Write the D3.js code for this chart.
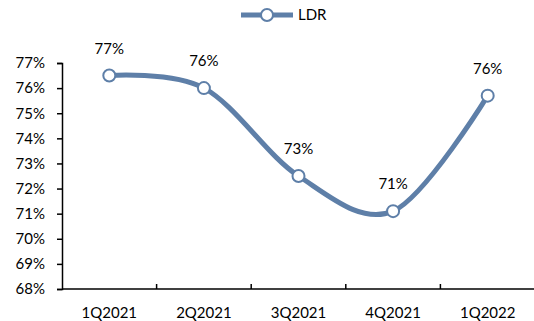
<!DOCTYPE html>
<html>
<head>
<meta charset="utf-8">
<script src="https://cdn.jsdelivr.net/npm/d3@7"></script>
<style>
  body { margin: 0; background: #fff; }
  text { font-family: Lato, "Open Sans", sans-serif; fill: #000; }
</style>
</head>
<body>
<script>
const WIDTH = 534
const HEIGHT = 321

// data
const quarters = ["1Q2021", "2Q2021", "3Q2021", "4Q2021", "1Q2022"]
const ldr = [76.5, 76.0, 72.5, 71.1, 75.7]
const yTicks = [68, 69, 70, 71, 72, 73, 74, 75, 76, 77]

const lineColor = "#5e7fa8"
const margin = { top: 63, right: 0, bottom: 32, left: 62 }

const svg = d3.select("body")
    .append("svg")
    .attr("width", WIDTH)
    .attr("height", HEIGHT)

const x = d3.scaleBand()
    .domain(quarters)
    .range([margin.left, WIDTH - margin.right + 1])

const y = d3.scaleLinear()
    .domain([68, 77])
    .range([HEIGHT - margin.bottom, margin.top])

// y axis
const yAxis = svg.append("g")
    .attr("transform", `translate(${margin.left},0)`)
    .call(d3.axisLeft(y).tickValues(yTicks).tickSize(5).tickPadding(12).tickFormat(d => d + "%"))
yAxis.select(".domain").attr("stroke", "#000").attr("stroke-width", 1.5)
yAxis.selectAll(".tick line").attr("stroke", "#000").attr("stroke-width", 1.5)
yAxis.selectAll("text").style("font-size", "15px")

// x axis
const xAxis = svg.append("g")
    .attr("transform", `translate(0,${y(68)})`)
xAxis.append("line")
    .attr("x1", margin.left)
    .attr("x2", WIDTH)
    .attr("stroke", "#000")
    .attr("stroke-width", 1.5)
xAxis.selectAll(".sep")
    .data(quarters.slice(1))
    .enter()
    .append("line")
    .attr("x1", d => x(d))
    .attr("x2", d => x(d))
    .attr("y1", 0)
    .attr("y2", -5)
    .attr("stroke", "#000")
    .attr("stroke-width", 1.5)
xAxis.selectAll(".lbl")
    .data(quarters)
    .enter()
    .append("text")
    .attr("x", d => x(d) + x.bandwidth() / 2)
    .attr("y", 29)
    .attr("text-anchor", "middle")
    .style("font-size", "15px")
    .text(d => d)

// line
const line = d3.line()
    .x((d, i) => x(quarters[i]) + x.bandwidth() / 2)
    .y(d => y(d))
    .curve(d3.curveCardinal.tension(0))

svg.append("path")
    .datum(ldr)
    .attr("d", line)
    .attr("fill", "none")
    .attr("stroke", lineColor)
    .attr("stroke-width", 5)

svg.selectAll(".pt")
    .data(ldr)
    .enter()
    .append("circle")
    .attr("cx", (d, i) => x(quarters[i]) + x.bandwidth() / 2)
    .attr("cy", d => y(d))
    .attr("r", 6)
    .attr("fill", "#fff")
    .attr("stroke", lineColor)
    .attr("stroke-width", 2)

svg.selectAll(".val")
    .data(ldr)
    .enter()
    .append("text")
    .attr("x", (d, i) => x(quarters[i]) + x.bandwidth() / 2)
    .attr("y", d => y(d) - 22)
    .attr("text-anchor", "middle")
    .style("font-size", "15px")
    .text(d => Math.round(d) + "%")

// legend
const legend = svg.append("g").attr("transform", "translate(241,15)")
legend.append("line")
    .attr("x1", 0)
    .attr("x2", 52)
    .attr("stroke", lineColor)
    .attr("stroke-width", 5)
legend.append("circle")
    .attr("cx", 26)
    .attr("r", 6)
    .attr("fill", "#fff")
    .attr("stroke", lineColor)
    .attr("stroke-width", 2)
legend.append("text")
    .attr("x", 57)
    .attr("y", 5)
    .style("font-size", "15px")
    .text("LDR")
</script>
</body>
</html>
